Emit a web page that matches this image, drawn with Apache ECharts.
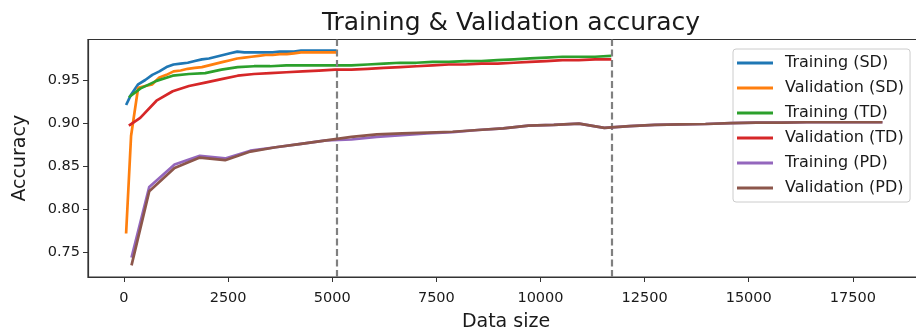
<!DOCTYPE html>
<html>
<head>
<meta charset="utf-8">
<script src="https://cdn.jsdelivr.net/npm/echarts@6/dist/echarts.min.js"></script>
<style>
  html, body { margin: 0; padding: 0; background: #ffffff; }
  #chart { width: 916px; height: 333px; }
</style>
</head>
<body>
<div id="chart"></div>
<script>
// Training-set sizes and accuracies for the three datasets (SD, TD, PD)
const sdSizes = [51, 170, 340, 510, 680, 850, 1020, 1190, 1360, 1530, 1700, 1870, 2040, 2210, 2380, 2550, 2720, 2890, 3060, 3230, 3400, 3570, 3740, 3910, 4080, 4250, 4420, 4590, 4760, 4930, 5100];
const sdTrain = [0.921, 0.933, 0.945, 0.950, 0.956, 0.960, 0.965, 0.968, 0.969, 0.970, 0.972, 0.974, 0.975, 0.977, 0.979, 0.981, 0.983, 0.982, 0.982, 0.982, 0.982, 0.982, 0.983, 0.983, 0.983, 0.984, 0.984, 0.984, 0.984, 0.984, 0.984];
const sdVal = [0.772, 0.885, 0.941, 0.943, 0.945, 0.953, 0.956, 0.960, 0.961, 0.963, 0.964, 0.965, 0.967, 0.969, 0.971, 0.973, 0.975, 0.976, 0.977, 0.978, 0.979, 0.979, 0.980, 0.980, 0.981, 0.982, 0.982, 0.982, 0.982, 0.982, 0.982];

const tdSizes = [117, 390, 780, 1170, 1560, 1950, 2340, 2730, 3120, 3510, 3900, 4290, 4680, 5070, 5460, 5850, 6240, 6630, 7020, 7410, 7800, 8190, 8580, 8970, 9360, 9750, 10140, 10530, 10920, 11310, 11700];
const tdTrain = [0.930, 0.940, 0.949, 0.955, 0.957, 0.958, 0.962, 0.965, 0.966, 0.966, 0.967, 0.967, 0.967, 0.967, 0.967, 0.968, 0.969, 0.970, 0.970, 0.971, 0.971, 0.972, 0.972, 0.973, 0.974, 0.975, 0.976, 0.977, 0.977, 0.977, 0.978];
const tdVal = [0.897, 0.906, 0.926, 0.937, 0.943, 0.947, 0.951, 0.955, 0.957, 0.958, 0.959, 0.960, 0.961, 0.962, 0.962, 0.963, 0.964, 0.965, 0.966, 0.967, 0.968, 0.968, 0.969, 0.969, 0.970, 0.971, 0.972, 0.973, 0.973, 0.974, 0.974];

const pdSizes = [181, 607, 1214, 1821, 2428, 3035, 3642, 4249, 4856, 5463, 6070, 6677, 7284, 7891, 8498, 9105, 9712, 10319, 10926, 11533, 12140, 12747, 13354, 13961, 14568, 15175, 15782, 16389, 16996, 17603, 18210];
const pdTrain = [0.744, 0.826, 0.852, 0.862, 0.859, 0.868, 0.872, 0.876, 0.880, 0.881, 0.884, 0.886, 0.888, 0.8895, 0.892, 0.894, 0.897, 0.898, 0.8995, 0.8945, 0.8965, 0.898, 0.8985, 0.899, 0.900, 0.9005, 0.9005, 0.901, 0.901, 0.901, 0.901];
const pdVal = [0.735, 0.821, 0.848, 0.860, 0.857, 0.867, 0.872, 0.876, 0.880, 0.884, 0.887, 0.888, 0.889, 0.890, 0.892, 0.894, 0.897, 0.898, 0.8995, 0.8945, 0.8965, 0.898, 0.8985, 0.899, 0.900, 0.9005, 0.9005, 0.901, 0.901, 0.901, 0.901];

// Dataset boundaries marked with dashed lines
const splitMarks = [5100, 11700];

// Axis ticks
const xTicks = [0, 2500, 5000, 7500, 10000, 12500, 15000, 17500];
const yTicks = [0.75, 0.80, 0.85, 0.90, 0.95];

const seriesNames = ['Training (SD)', 'Validation (SD)', 'Training (TD)', 'Validation (TD)', 'Training (PD)', 'Validation (PD)'];
const seriesColors = ['#1f77b4', '#ff7f0e', '#2ca02c', '#d62728', '#9467bd', '#8c564b'];
const seriesSizes = [sdSizes, sdSizes, tdSizes, tdSizes, pdSizes, pdSizes];
const seriesValues = [sdTrain, sdVal, tdTrain, tdVal, pdTrain, pdVal];

const FONT = 'DejaVu Sans';
const INK = '#1a1a1a';

const lineSeries = seriesNames.map((name, i) => ({
  name: name,
  type: 'line',
  data: seriesSizes[i].map((s, k) => [s, seriesValues[i][k]]),
  showSymbol: false,
  symbol: 'none',
  smooth: false,
  lineStyle: { color: seriesColors[i], width: 2.7 },
  itemStyle: { color: seriesColors[i] },
  emphasis: { disabled: true },
  z: 2 + i
}));

lineSeries.push({
  name: 'boundaries',
  type: 'line',
  data: [],
  z: 20,
  markLine: {
    silent: true,
    symbol: ['none', 'none'],
    label: { show: false },
    lineStyle: { color: '#808080', type: [7, 3.5], width: 2.2 },
    emphasis: { disabled: true },
    data: splitMarks.map(v => ({ xAxis: v }))
  }
});

const chart = echarts.init(document.getElementById('chart'), null, { renderer: 'canvas' });
chart.setOption({
  animation: false,
  backgroundColor: '#ffffff',
  title: {
    text: 'Training & Validation accuracy',
    left: 506,
    textAlign: 'center',
    top: 6,
    textStyle: { fontFamily: FONT, fontSize: 25, fontWeight: 'normal', color: INK }
  },
  grid: {
    left: 88,
    top: 39.5,
    right: -8,
    bottom: 56,
    show: true,
    borderColor: '#333333',
    borderWidth: 1.2,
    containLabel: false,
    outerBoundsMode: 'none'
  },
  legend: {
    data: seriesNames,
    orient: 'vertical',
    left: 733,
    top: 49,
    icon: 'rect',
    itemWidth: 36,
    itemHeight: 3,
    itemGap: 9,
    padding: [6, 6, 6, 4],
    backgroundColor: 'rgba(255,255,255,0.8)',
    borderColor: '#cccccc',
    borderWidth: 1,
    borderRadius: 3,
    textStyle: { fontFamily: FONT, fontSize: 16, color: INK, padding: [0, 0, 0, 7] }
  },
  xAxis: {
    type: 'value',
    min: -864,
    max: 19208,
    name: 'Data size',
    nameLocation: 'middle',
    nameGap: 36,
    nameTextStyle: { fontFamily: FONT, fontSize: 19, color: INK },
    axisLine: { show: true, onZero: false, lineStyle: { color: '#333333', width: 1.2 } },
    axisTick: { show: true, length: 5, customValues: xTicks, lineStyle: { color: '#333333' } },
    axisLabel: { customValues: xTicks, margin: 14, fontFamily: FONT, fontSize: 14.5, color: INK, formatter: v => String(v) },
    splitLine: { show: false }
  },
  yAxis: {
    type: 'value',
    min: 0.7215,
    max: 0.997,
    name: 'Accuracy',
    nameLocation: 'middle',
    nameGap: 58,
    nameTextStyle: { fontFamily: FONT, fontSize: 19, color: INK },
    axisLine: { show: true, onZero: false, lineStyle: { color: '#333333', width: 1.2 } },
    axisTick: { show: true, length: 5, customValues: yTicks, lineStyle: { color: '#333333' } },
    axisLabel: { customValues: yTicks, margin: 8, fontFamily: FONT, fontSize: 14.5, color: INK, formatter: v => v.toFixed(2) },
    splitLine: { show: false }
  },
  series: lineSeries
});
</script>
</body>
</html>
